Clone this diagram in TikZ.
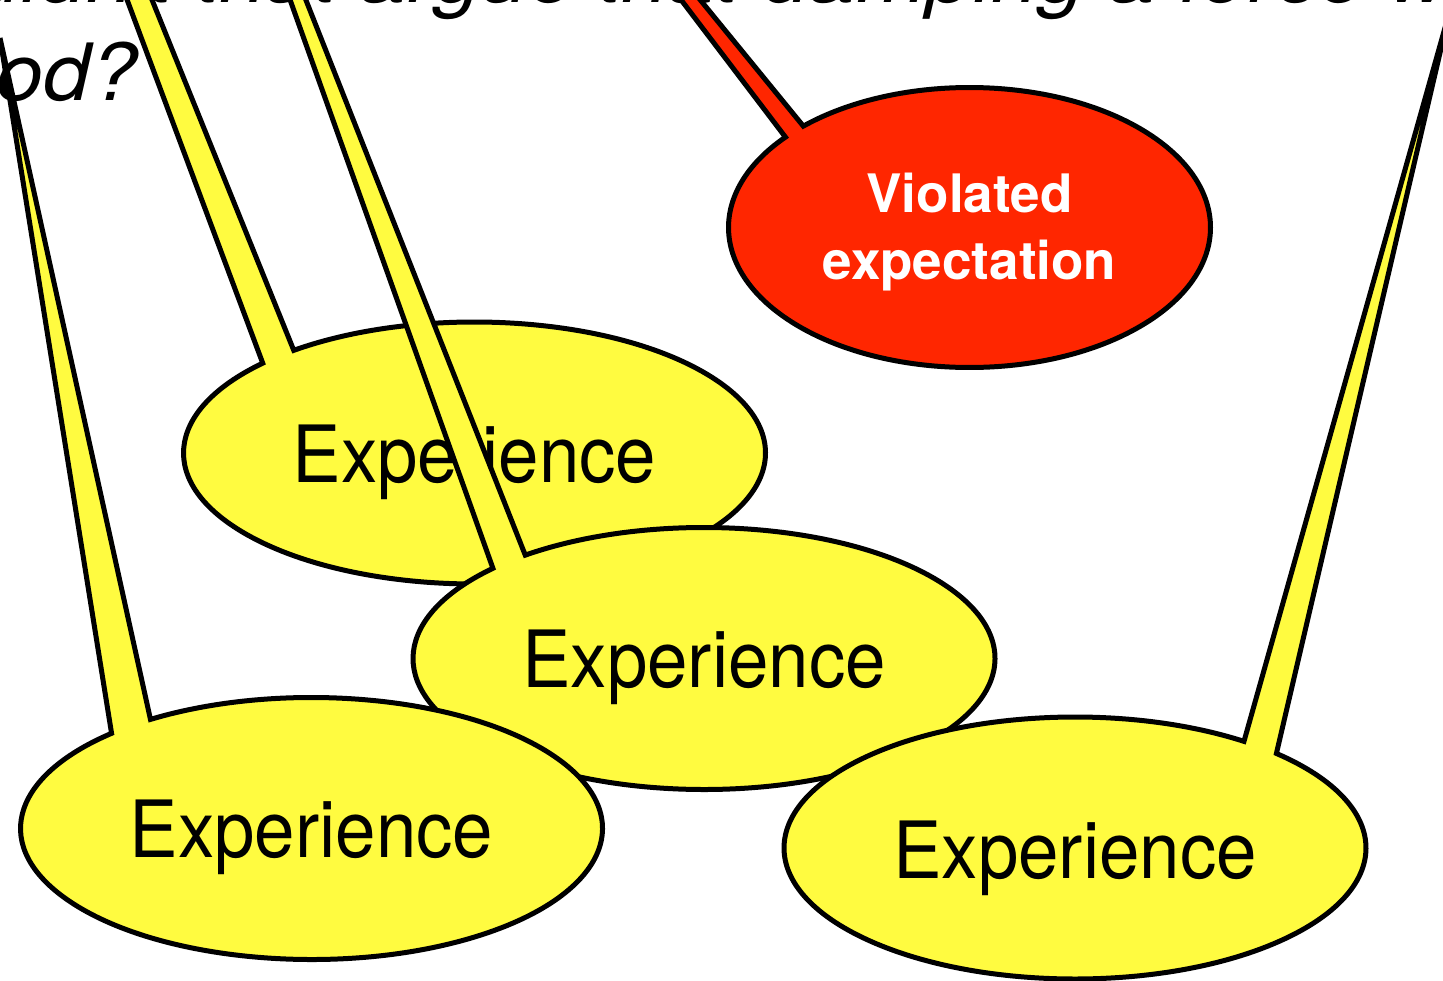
\documentclass[tikz,border=0pt]{standalone}
\usepackage{fontspec}
\setmainfont{TeX Gyre Heros}
\newfontfamily\narrowsans{TeX Gyre Heros}[FakeStretch=0.92]
\newfontfamily\widesans{TeX Gyre Heros}[FakeStretch=1.07]
\definecolor{bubbleyellow}{HTML}{FFFB40}
\definecolor{alertred}{HTML}{FF2600}
\begin{document}
\begin{tikzpicture}[x=1pt,y=-1pt,
  bubble/.style={draw=black, line width=5pt, line join=miter},
  question/.style={font=\widesans\itshape\fontsize{79}{87}\selectfont, inner sep=0pt},
  exptext/.style={font=\narrowsans\fontsize{79}{79}\selectfont, inner sep=0pt, anchor=base},
  alerttext/.style={font=\bfseries\fontsize{53}{67}\selectfont, text=white, align=center, inner sep=0pt}]
\useasboundingbox (0,0) rectangle (1443,980);
\clip (0,0) rectangle (1443,980);

% question at the top of the slide
\node[question, anchor=base west] (q1) at (-150,2) {Wouldn't that argue that damping a force would};
\node[question, anchor=base east] (q2) at (138,100) {period?};

% red bubble
\path[bubble, fill=alertred] (969.5,227.5) ++(-133.6:241 and 140)
  arc[start angle=-133.6, end angle=220.2, x radius=241, y radius=140]
  -- (666,-20) -- (684,-20) -- cycle;
\node[alerttext] (violated) at (969.5,232.5) {Violated\\expectation};

% upper-left experience bubble
\path[bubble, fill=bubbleyellow] (474.5,453) ++(-128.4:291 and 131)
  arc[start angle=-128.4, end angle=223.3, x radius=291, y radius=131]
  -- (119.7,-20) -- (144,-20) -- cycle;
\node[exptext] (exp1) at (474.5,482) {Experience};

% middle experience bubble
\path[bubble, fill=bubbleyellow] (704,658.5) ++(-127.9:291 and 131)
  arc[start angle=-127.9, end angle=223.5, x radius=291, y radius=131]
  -- (283,-20) -- (298,-20) -- cycle;
\node[exptext] (exp2) at (704,687) {Experience};

% lower-left experience bubble
\path[bubble, fill=bubbleyellow] (311.5,828.5) ++(-123.6:291 and 131)
  arc[start angle=-123.6, end angle=226.6, x radius=291, y radius=131]
  -- (0,38) -- cycle;
\node[exptext] (exp3) at (311.5,857) {Experience};

% lower-right experience bubble
\path[bubble, fill=bubbleyellow] (1075,848) ++(-46.2:291 and 131)
  arc[start angle=-46.2, end angle=305.5, x radius=291, y radius=131]
  -- (1450,10) -- cycle;
\node[exptext] (exp4) at (1075,878) {Experience};
\end{tikzpicture}
\end{document}
